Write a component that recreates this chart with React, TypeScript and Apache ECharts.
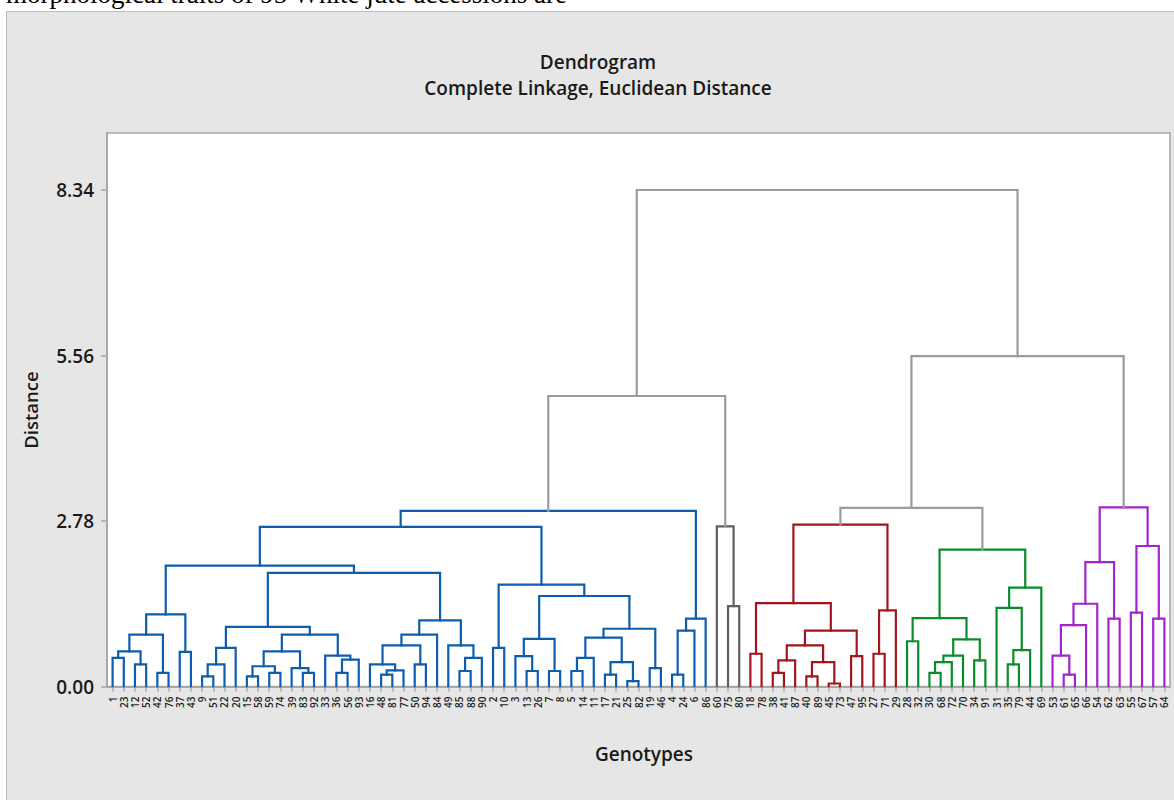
import React, { useEffect, useRef } from "react";
import * as echarts from "echarts";

// Leaf order (genotype numbers) along the x axis
const leafOrder = [
  1, 23, 12, 52, 42, 76, 37, 43, 9, 51, 22, 20, 15, 58, 59, 74, 39, 83, 92, 33, 36, 56, 93, 16, 48, 81, 77, 50, 94, 84,
  49, 85, 88, 90, 2, 10, 3, 13, 26, 7, 8, 5, 14, 11, 17, 21, 25, 82, 19, 46, 4, 24, 6, 86, 60, 75, 80, 18, 78, 38, 41,
  87, 40, 89, 45, 73, 47, 95, 27, 71, 29, 28, 32, 30, 68, 72, 70, 34, 91, 31, 35, 79, 44, 69, 53, 61, 65, 66, 54, 62,
  63, 55, 67, 57, 64,
];

// Linkage rows: [childA, childB, distance]; ids < 1000 are genotypes, 1000 + k is the node made at row k
const linkage: [number, number, number][] = [
  [1, 23, 0.48], [12, 52, 0.37], [1000, 1001, 0.59], [42, 76, 0.23], [1002, 1003, 0.87],
  [37, 43, 0.58], [1004, 1005, 1.21], [9, 51, 0.17], [1007, 22, 0.37], [1008, 20, 0.65],
  [15, 58, 0.17], [59, 74, 0.23], [1010, 1011, 0.34], [83, 92, 0.23], [39, 1013, 0.31],
  [1012, 1014, 0.59], [36, 56, 0.23], [1016, 93, 0.45], [33, 1017, 0.52], [1015, 1018, 0.87],
  [1009, 1019, 1.0], [48, 81, 0.2], [1021, 77, 0.27], [16, 1022, 0.37], [50, 94, 0.37],
  [1023, 1024, 0.69], [1025, 84, 0.87], [85, 88, 0.26], [1027, 90, 0.48], [49, 1028, 0.69],
  [1026, 1029, 1.11], [1020, 1030, 1.91], [1006, 1031, 2.03], [2, 10, 0.65], [13, 26, 0.26],
  [3, 1034, 0.51], [7, 8, 0.26], [1035, 1036, 0.8], [5, 14, 0.26], [1038, 11, 0.48],
  [17, 21, 0.2], [25, 82, 0.09], [1040, 1041, 0.41], [1039, 1042, 0.82], [19, 46, 0.31],
  [1043, 1044, 0.97], [1037, 1045, 1.52], [1033, 1046, 1.71], [1032, 1047, 2.68], [4, 24, 0.2],
  [1049, 6, 0.94], [1050, 86, 1.14], [1048, 1051, 2.95], [75, 80, 1.35], [60, 1053, 2.69],
  [1052, 1054, 4.88], [18, 78, 0.55], [38, 41, 0.23], [1057, 87, 0.44], [40, 89, 0.17],
  [45, 73, 0.05], [1059, 1060, 0.41], [1058, 1061, 0.69], [47, 95, 0.51], [1062, 1063, 0.94],
  [1056, 1064, 1.4], [27, 71, 0.55], [1066, 29, 1.28], [1065, 1067, 2.72], [28, 32, 0.76],
  [30, 68, 0.23], [1070, 72, 0.41], [1071, 70, 0.52], [34, 91, 0.44], [1072, 1073, 0.79],
  [1069, 1074, 1.15], [35, 79, 0.37], [1076, 44, 0.61], [31, 1077, 1.32], [1078, 69, 1.66],
  [1075, 1079, 2.3], [1068, 1080, 3.0], [61, 65, 0.2], [53, 1082, 0.52], [1083, 66, 1.03],
  [1084, 54, 1.39], [62, 63, 1.14], [1085, 1086, 2.09], [55, 67, 1.24], [57, 64, 1.14],
  [1088, 1089, 2.36], [1087, 1090, 3.01], [1081, 1091, 5.55], [1055, 1092, 8.34],
];

// Final clusters
const clusterBlue = [
  1, 23, 12, 52, 42, 76, 37, 43, 9, 51, 22, 20, 15, 58, 59, 74, 39, 83, 92, 33, 36, 56, 93, 16, 48, 81, 77, 50, 94, 84,
  49, 85, 88, 90, 2, 10, 3, 13, 26, 7, 8, 5, 14, 11, 17, 21, 25, 82, 19, 46, 4, 24, 6, 86,
];
const clusterGrey = [60, 75, 80];
const clusterRed = [18, 78, 38, 41, 87, 40, 89, 45, 73, 47, 95, 27, 71, 29];
const clusterGreen = [28, 32, 30, 68, 72, 70, 34, 91, 31, 35, 79, 44, 69];
const clusterPurple = [53, 61, 65, 66, 54, 62, 63, 55, 67, 57, 64];

const yTicks = [0, 2.78, 5.56, 8.34];

const FONT = '"Open Sans", "Noto Sans", sans-serif';

export default function App() {
  const ref = useRef<HTMLDivElement>(null);

  useEffect(() => {
    if (!ref.current) return;
    const chart = echarts.init(ref.current, null, { renderer: "svg" });

    const clusters = [
      { members: clusterBlue, color: "#0d5dad" },
      { members: clusterGrey, color: "#5f5f5f" },
      { members: clusterRed, color: "#a0161c" },
      { members: clusterGreen, color: "#0b8c2c" },
      { members: clusterPurple, color: "#a224cc" },
    ];
    const linkColor = "#9b9b9b";
    const clusterOf = new Map<number, number>();
    clusters.forEach((c, ci) => c.members.forEach((m) => clusterOf.set(m, ci)));

    const pos = new Map<number, number>();
    leafOrder.forEach((g, i) => pos.set(g, i));

    const nodeX: number[] = [];
    const nodeH: number[] = [];
    const nodeC: number[] = [];
    const info = (id: number) =>
      id >= 1000
        ? { x: nodeX[id - 1000], h: nodeH[id - 1000], c: nodeC[id - 1000] }
        : { x: pos.get(id) as number, h: 0, c: clusterOf.get(id) as number };

    const lineData: any[] = [];
    linkage.forEach(([a, b, h]) => {
      const A = info(a);
      const B = info(b);
      const c = A.c === B.c && A.c >= 0 ? A.c : -1;
      nodeX.push((A.x + B.x) / 2);
      nodeH.push(h);
      nodeC.push(c);
      lineData.push({
        coords: [
          [A.x, A.h],
          [A.x, h],
          [B.x, h],
          [B.x, B.h],
        ],
        lineStyle: { color: c >= 0 ? clusters[c].color : linkColor },
      });
    });

    const gridTop = 133;
    const gridBottomY = 686.5;
    const pxPerUnit = (gridBottomY - 190) / 8.34;
    const yMax = (gridBottomY - gridTop) / pxPerUnit;

    chart.setOption({
      animation: false,
      grid: {
        left: 107,
        right: 4,
        top: gridTop,
        bottom: 800 - gridBottomY,
        show: true,
        backgroundColor: "#ffffff",
        borderColor: "#a8a8a8",
        borderWidth: 1.5,
      },
      graphic: [
        {
          type: "text",
          x: 598,
          y: 62,
          style: {
            text: "Dendrogram",
            font: `600 19px ${FONT}`,
            fill: "#1a1a1a",
            align: "center",
            verticalAlign: "middle",
          },
        },
        {
          type: "text",
          x: 598,
          y: 88,
          style: {
            text: "Complete Linkage, Euclidean Distance",
            font: `600 19px ${FONT}`,
            fill: "#1a1a1a",
            align: "center",
            verticalAlign: "middle",
          },
        },
        {
          type: "text",
          x: 30,
          y: 410,
          rotation: Math.PI / 2,
          style: {
            text: "Distance",
            font: `600 18.5px ${FONT}`,
            fill: "#1a1a1a",
            align: "center",
            verticalAlign: "middle",
          },
        },
        {
          type: "text",
          x: 644,
          y: 754,
          style: {
            text: "Genotypes",
            font: `600 19px ${FONT}`,
            fill: "#1a1a1a",
            align: "center",
            verticalAlign: "middle",
          },
        },
      ],
      xAxis: [
        {
          type: "category",
          data: leafOrder.map(String),
          boundaryGap: true,
          axisLine: { show: true, onZero: false, lineStyle: { color: "#a8a8a8", width: 2 } },
          axisTick: { show: true, alignWithLabel: true, interval: 0, length: 5, lineStyle: { color: "#a8a8a8", width: 1.5 } },
          axisLabel: {
            interval: 0,
            rotate: 90,
            fontSize: 10,
            fontWeight: 600,
            fontFamily: FONT,
            color: "#1e1e1e",
            margin: 10,
          },
          splitLine: { show: false },
        },
        {
          type: "value",
          min: -0.5,
          max: leafOrder.length - 0.5,
          show: false,
        },
      ],
      yAxis: {
        type: "value",
        min: 0,
        max: yMax,
        axisLine: { show: true, onZero: false, lineStyle: { color: "#a8a8a8", width: 2 } },
        axisTick: { show: true, length: 6, customValues: yTicks, lineStyle: { color: "#a8a8a8", width: 1.5 } },
        axisLabel: {
          customValues: yTicks,
          formatter: (v: number) => v.toFixed(2),
          fontSize: 19,
          fontWeight: 600,
          fontFamily: FONT,
          color: "#1a1a1a",
          margin: 13,
        },
        splitLine: { show: false },
      },
      series: [
        {
          type: "lines",
          coordinateSystem: "cartesian2d",
          xAxisIndex: 1,
          yAxisIndex: 0,
          polyline: true,
          silent: true,
          lineStyle: { width: 2.2, opacity: 1, cap: "square", join: "miter" },
          data: lineData,
        },
      ],
    });

    return () => chart.dispose();
  }, []);

  return (
    <div
      style={{
        position: "fixed",
        left: 0,
        top: 0,
        width: 1174,
        height: 800,
        background: "#ffffff",
        overflow: "hidden",
      }}
    >
      <div
        style={{
          position: "absolute",
          left: 6,
          top: -19,
          fontFamily: '"Liberation Serif", "DejaVu Serif", serif',
          fontSize: 27,
          lineHeight: "27px",
          whiteSpace: "nowrap",
          color: "#000",
        }}
      >
        morphological traits of 95 White jute accessions are
      </div>
      <div
        style={{
          position: "absolute",
          left: 6,
          top: 11,
          width: 1190,
          height: 800,
          background: "#e6e6e6",
          border: "1px solid #bdbdbd",
          boxSizing: "border-box",
        }}
      />
      <div ref={ref} style={{ position: "absolute", left: 0, top: 0, width: 1174, height: 800 }} />
    </div>
  );
}
